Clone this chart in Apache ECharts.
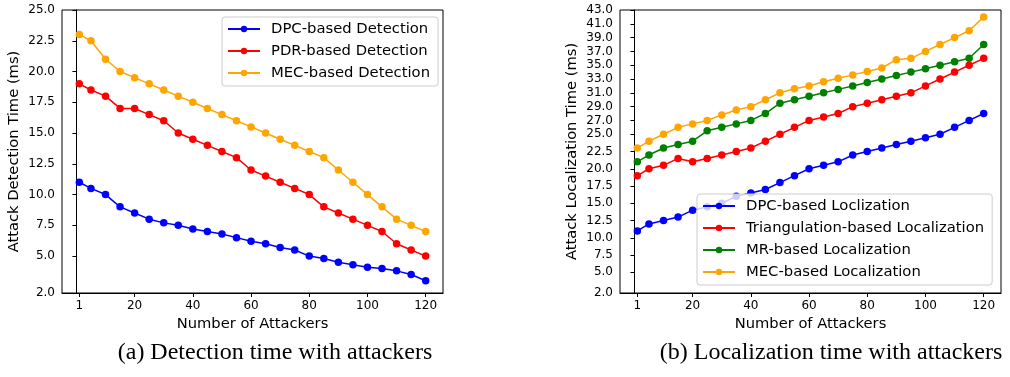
<!DOCTYPE html>
<html>
<head>
<meta charset="utf-8">
<script src="https://cdn.jsdelivr.net/npm/echarts@6/dist/echarts.min.js"></script>
<style>
html,body{margin:0;padding:0;background:#fff;}
#chart{width:1010px;height:377px;}
</style>
</head>
<body>
<div id="chart"></div>
<script>
// ---- data ----
const attackers = [1,5,10,15,20,25,30,35,40,45,50,55,60,65,70,75,80,85,90,95,100,105,110,115,120];
const xTicks = [1,20,40,60,80,100,120];
const yTicksDet = [2,5,7.5,10,12.5,15,17.5,20,22.5,25];
const yTicksLoc = [2,5,7.5,10,12.5,15,17.5,20,22.5,25,27,29,31,33,35,37,39,41,43];

const dpcDetection = [11.0,10.5,10.0,9.0,8.5,8.0,7.7,7.5,7.2,7.0,6.8,6.5,6.2,6.0,5.7,5.5,5.0,4.8,4.5,4.3,4.1,4.0,3.8,3.5,3.0];
const pdrDetection = [19,18.5,18,17,17,16.5,16,15,14.5,14,13.5,13,12,11.5,11,10.5,10,9,8.5,8,7.5,7,6,5.5,5];
const mecDetection = [23,22.5,21,20,19.5,19,18.5,18,17.5,17,16.5,16,15.5,15,14.5,14,13.5,13,12,11,10,9,8,7.5,7];

const dpcLocalization = [11,12,12.5,13,14,14.5,15,16,16.5,17,18,19,20,20.5,21,22,22.5,23,23.5,24,24.5,25,26,27,28];
const triLocalization = [19,20,20.5,21.5,21,21.5,22,22.5,23,24,25,26,27,27.5,28,29,29.5,30,30.5,31,32,33,34,35,36];
const mrLocalization = [21,22,23,23.5,24,25.5,26,26.5,27,28,29.5,30,30.5,31,31.5,32,32.5,33,33.5,34,34.5,35,35.5,36,38];
const mecLocalization = [23,24,25,26,26.5,27,27.8,28.5,29,30,31,31.6,32,32.6,33.1,33.6,34.1,34.6,35.8,36,37,38,39,40,42];

const namesDet = ['DPC-based Detection','PDR-based Detection','MEC-based Detection'];
const namesLoc = ['DPC-based Loclization','Triangulation-based Localization','MR-based Localization','MEC-based Localization'];

// ---- chart ----
const FONT = 'DejaVu Sans';
const pairs = arr => arr.map((v,i)=>[attackers[i], v]);

function xAxis(gi){
  return {
    gridIndex: gi, type:'value', min:-4.95, max:125.95,
    name:'Number of Attackers', nameLocation:'middle', nameGap:23,
    nameTextStyle:{fontFamily:FONT,fontSize:14.7,color:'#000'},
    axisLine:{show:true,lineStyle:{color:'#000',width:1}},
    axisTick:{show:true,inside:false,length:4,lineStyle:{color:'#000'},customValues:xTicks},
    axisLabel:{fontFamily:FONT,fontSize:12,color:'#000',margin:7,customValues:xTicks,formatter:v=>String(v)},
    splitLine:{show:false}
  };
}
function yAxis(gi,max,ticks,name){
  return {
    gridIndex: gi, type:'value', min:2, max:max,
    name:name, nameLocation:'middle', nameGap:40, nameRotate:90,
    nameTextStyle:{fontFamily:FONT,fontSize:14.7,color:'#000'},
    axisLine:{show:true,lineStyle:{color:'#000',width:1}},
    axisTick:{show:true,inside:false,length:4,lineStyle:{color:'#000'},customValues:ticks},
    axisLabel:{fontFamily:FONT,fontSize:12,color:'#000',margin:7,customValues:ticks,formatter:v=>Number(v).toFixed(1)},
    splitLine:{show:false}
  };
}
function line(name,data,color,xi){
  return {
    name:name, type:'line', xAxisIndex:xi, yAxisIndex:xi, data:pairs(data),
    symbol:'circle', symbolSize:7.5, showSymbol:true,
    lineStyle:{color:color,width:1.5}, itemStyle:{color:color},
    emphasis:{disabled:true}, animation:false
  };
}
const legendCommon = {
  orient:'vertical', itemWidth:32, itemHeight:8, itemGap:6,
  backgroundColor:'rgba(255,255,255,0.8)', borderColor:'#cccccc', borderWidth:1, borderRadius:3,
  textStyle:{fontFamily:FONT,fontSize:14.8,color:'#000',lineHeight:16,padding:[0,0,0,6]},
  selectedMode:false
};

const chart = echarts.init(document.getElementById('chart'), null, {renderer:'canvas'});
chart.setOption({
  animation:false,
  backgroundColor:'#fff',
  grid:[
    {left:62,top:10,width:381,height:283,show:true,borderColor:'#000',borderWidth:1,backgroundColor:'transparent'},
    {left:620,top:10,width:381,height:283,show:true,borderColor:'#000',borderWidth:1,backgroundColor:'transparent'}
  ],
  xAxis:[xAxis(0),xAxis(1)],
  yAxis:[yAxis(0,25,yTicksDet,'Attack Detection Time (ms)'), yAxis(1,43,yTicksLoc,'Attack Localization Time (ms)')],
  legend:[
    Object.assign({}, legendCommon, {left:222,top:17,padding:[4,8,5,5],data:namesDet}),
    Object.assign({}, legendCommon, {left:697,top:194,padding:[4,8,5,5],data:namesLoc})
  ],
  series:[
    line(namesDet[0],dpcDetection,'#0000ff',0),
    line(namesDet[1],pdrDetection,'#ff0000',0),
    line(namesDet[2],mecDetection,'#ffa500',0),
    line(namesLoc[0],dpcLocalization,'#0000ff',1),
    line(namesLoc[1],triLocalization,'#ff0000',1),
    line(namesLoc[2],mrLocalization,'#008000',1),
    line(namesLoc[3],mecLocalization,'#ffa500',1)
  ],
  graphic:[
    {type:'text',x:275,y:353,style:{text:'(a) Detection time with attackers',font:'24px "Liberation Serif", "Times New Roman", serif',fill:'#000',align:'center',verticalAlign:'middle'}},
    {type:'text',x:831,y:353,style:{text:'(b) Localization time with attackers',font:'24px "Liberation Serif", "Times New Roman", serif',fill:'#000',align:'center',verticalAlign:'middle'}}
  ]
});
</script>
</body>
</html>
